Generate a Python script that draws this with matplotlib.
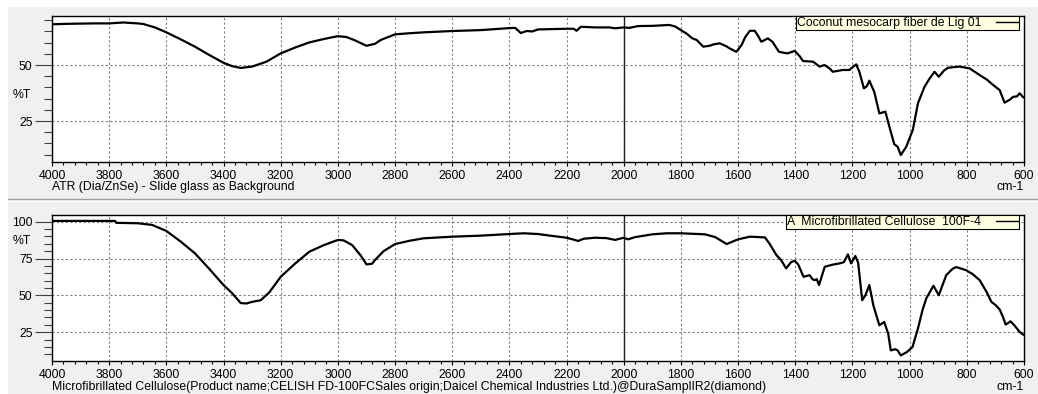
import matplotlib
matplotlib.use("Agg")
import matplotlib.pyplot as plt
from matplotlib.patches import Rectangle
from matplotlib.lines import Line2D
from matplotlib.ticker import MultipleLocator
import numpy as np

plt.rcParams['font.family'] = ['Liberation Sans', 'DejaVu Sans']

# spectrum 1 - coconut mesocarp fiber
wn_top = [4000, 3950, 3900, 3850, 3800, 3750, 3700, 3680, 3640, 3600, 3550, 3500, 3450, 3400,
          3370, 3340, 3300, 3250, 3200, 3150, 3100, 3050, 3000, 2970, 2940, 2900, 2870, 2850,
          2800, 2750, 2700, 2600, 2500, 2400, 2380, 2360, 2340, 2320, 2300, 2200, 2175, 2165,
          2150, 2100, 2050, 2030, 2000, 1980, 1950, 1900, 1840, 1820, 1800, 1780, 1760, 1745,
          1722, 1700, 1687, 1664, 1640, 1629, 1606, 1588, 1575, 1559, 1542, 1530, 1519, 1496,
          1480, 1457, 1428, 1402, 1385, 1373, 1338, 1315, 1298, 1280, 1269, 1234, 1210, 1205,
          1187, 1176, 1160, 1150, 1141, 1124, 1106, 1085, 1071, 1054, 1042, 1031, 1012, 989,
          971, 948, 930, 913, 898, 880, 866, 825, 790, 755, 730, 708, 685, 668, 650, 638, 625,
          615, 603, 600]
t_top = [68.2, 68.4, 68.5, 68.6, 68.6, 69.0, 68.6, 68.3, 66.8, 64.6, 61.5, 58.2, 54.5, 51.0,
         49.5, 48.7, 49.3, 51.5, 55.2, 57.8, 60.1, 61.6, 62.9, 62.5, 61.0, 58.6, 59.5, 61.2,
         63.7, 64.2, 64.6, 65.2, 65.6, 66.5, 66.6, 64.3, 65.2, 65.0, 65.9, 66.2, 66.2, 65.3,
         67.1, 66.8, 66.8, 66.4, 66.8, 66.6, 67.4, 67.5, 67.9, 67.2, 65.6, 64.0, 61.9, 61.2,
         58.2, 58.6, 59.2, 59.7, 58.3, 57.4, 55.9, 58.9, 62.5, 65.3, 65.3, 63.0, 60.4, 61.9,
         60.4, 55.9, 55.2, 56.3, 54.0, 51.8, 51.5, 49.3, 50.0, 48.5, 47.0, 47.8, 47.8, 48.5,
         50.3, 47.0, 39.6, 40.5, 43.0, 38.1, 28.4, 29.2, 22.5, 14.7, 13.5, 9.8, 13.5, 21.0,
         32.9, 40.3, 44.0, 47.0, 44.8, 47.5, 48.8, 49.3, 48.5, 45.5, 43.5, 41.1, 38.8, 33.2,
         34.5, 35.8, 36.0, 37.4, 35.6, 35.5]

# spectrum 2 - microfibrillated cellulose
wn_bot = [4000, 3900, 3800, 3780, 3775, 3700, 3650, 3600, 3550, 3500, 3450, 3400, 3370, 3340,
          3320, 3300, 3270, 3240, 3200, 3150, 3100, 3050, 3000, 2980, 2950, 2920, 2900, 2880,
          2870, 2840, 2800, 2750, 2700, 2600, 2500, 2400, 2350, 2300, 2250, 2200, 2170, 2160,
          2140, 2100, 2060, 2030, 2000, 1985, 1960, 1900, 1850, 1800, 1716, 1680, 1640, 1600,
          1559, 1506, 1490, 1466, 1450, 1432, 1415, 1402, 1390, 1371, 1350, 1340, 1332, 1325,
          1317, 1297, 1270, 1245, 1230, 1216, 1205, 1190, 1180, 1166, 1155, 1141, 1127, 1106,
          1089, 1075, 1066, 1050, 1042, 1031, 1010, 990, 971, 955, 942, 917, 898, 885, 872,
          850, 837, 803, 780, 755, 730, 714, 700, 685, 675, 664, 647, 632, 615, 603, 600]
t_bot = [100.5, 100.5, 100.5, 100.5, 99.2, 98.9, 97.8, 93.7, 86.5, 78.5, 68.0, 57.0, 51.5, 44.8,
         44.5, 45.6, 46.7, 52.0, 62.6, 71.5, 79.6, 84.0, 87.6, 87.3, 84.1, 77.0, 71.0, 71.5,
         74.0, 80.0, 84.8, 87.0, 88.7, 89.8, 90.5, 91.6, 92.1, 91.6, 90.3, 89.1, 87.5, 86.9,
         88.4, 89.1, 88.8, 87.6, 89.1, 88.0, 89.5, 91.4, 92.1, 92.1, 91.4, 89.5, 84.8, 88.0,
         89.8, 89.3, 85.0, 77.3, 74.0, 68.3, 72.5, 73.5, 71.0, 62.6, 63.7, 61.0, 60.3, 61.0,
         57.0, 69.4, 70.8, 71.7, 72.5, 77.8, 71.7, 76.7, 72.0, 46.7, 50.0, 57.0, 43.3, 29.7,
         32.0, 24.0, 12.7, 13.5, 12.7, 9.3, 11.5, 15.0, 27.5, 40.0, 47.9, 56.5, 50.1, 57.0, 63.7,
         68.0, 69.2, 67.1, 64.5, 60.3, 52.0, 45.6, 43.5, 40.4, 36.0, 30.2, 32.4, 29.3, 25.2,
         23.4, 23.2]

label_top = "Coconut mesocarp fiber de Lig 01"
label_bot = "A  Microfibrillated Cellulose  100F-4"
note_top = "ATR (Dia/ZnSe) - Slide glass as Background"
note_bot = ("Microfibrillated Cellulose(Product name;CELISH FD-100FCSales origin;"
            "Daicel Chemical Industries Ltd.)@DuraSamplIR2(diamond)")

W, H = 1038, 394
fig = plt.figure(figsize=(W / 100, H / 100), dpi=100, facecolor='white')

def box(px0, py0, px1, py1):
    # pixel box (top-left origin) -> figure fraction [l, b, w, h]
    return [px0 / W, 1 - py1 / H, (px1 - px0) / W, (py1 - py0) / H]

# gray window background and panel separator
fig.patches.append(Rectangle((8 / W, 0), 1, 1 - 7 / H, transform=fig.transFigure,
                             facecolor='#f0f0f0', edgecolor='none', zorder=-10))
fig.lines.append(Line2D([8 / W, 1], [1 - 199 / H] * 2, transform=fig.transFigure,
                        color='#a0a0a0', lw=1, zorder=-5))
fig.lines.append(Line2D([8 / W, 1], [1 - 200.5 / H] * 2, transform=fig.transFigure,
                        color='white', lw=1, zorder=-5))

FS = 8.8
panels = [
    (box(52, 16, 1024, 162), wn_top, t_top, (6.7, 71.9), [25, 50], label_top, note_top,
     95, 187),
    (box(52, 215, 1024, 361), wn_bot, t_bot, (5.5, 104.5), [25, 50, 75, 100], label_bot,
     note_bot, 241, 387),
]

for rect, wn, t, ylim, yt, lab, note, pct_y, note_y in panels:
    ax = fig.add_axes(rect, facecolor='white')
    ax.plot(wn, t, color='black', lw=1.6, label=lab, zorder=3)
    ax.set_xlim(4000, 600)
    ax.set_ylim(*ylim)
    ax.set_xticks(np.arange(4000, 599, -200))
    ax.xaxis.set_minor_locator(MultipleLocator(40))
    ax.set_yticks(yt)
    ax.yaxis.set_minor_locator(MultipleLocator(5))
    ax.tick_params(axis='x', which='major', length=3, width=0.8, labelsize=FS, pad=3)
    ax.tick_params(axis='x', which='minor', length=2, width=0.8)
    ax.tick_params(axis='y', which='major', length=12, width=0.8, labelsize=FS, pad=2,
                   color='#404040')
    ax.tick_params(axis='y', which='minor', length=6, width=0.8, color='#404040')
    ax.grid(True, which='major', color='#808080', ls=(0, (2, 2)), lw=0.8)
    ax.axvline(2000, color='#202020', lw=1, zorder=2)
    for s in ax.spines.values():
        s.set_color('black')
        s.set_linewidth(1)
    leg = ax.legend(loc='upper right', bbox_to_anchor=(0.9949, 1.0), markerfirst=False,
                    fancybox=False, framealpha=1, facecolor='#ffffe1', edgecolor='black',
                    borderpad=0.1, borderaxespad=0, handlelength=1.8, handletextpad=1.2,
                    fontsize=FS)
    leg.get_frame().set_linewidth(0.8)
    for ln in leg.get_lines():
        ln.set_linewidth(1)
    fig.text(22 / W, 1 - pct_y / H, "%T", ha='center', va='center', fontsize=FS)
    fig.text(52 / W, 1 - note_y / H, note, ha='left', va='center', fontsize=FS)
    fig.text(1024 / W, 1 - note_y / H, "cm-1", ha='right', va='center', fontsize=FS)

fig.savefig("out.png", dpi=100, facecolor=fig.get_facecolor())
